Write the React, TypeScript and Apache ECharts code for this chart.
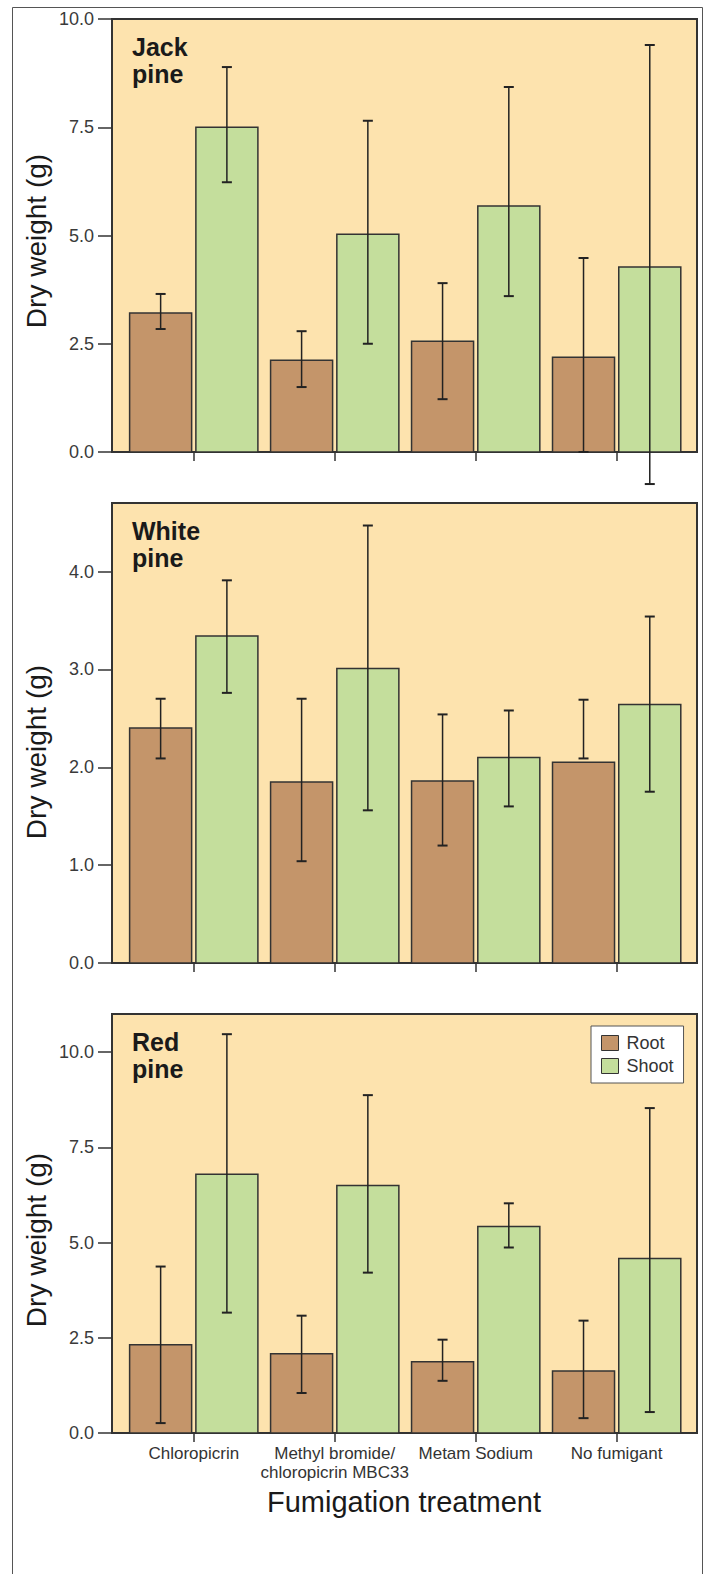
import React, { useEffect, useRef } from 'react';
import * as echarts from 'echarts';

const categories = ['Chloropicrin', 'Methyl bromide/\nchloropicrin MBC33', 'Metam Sodium', 'No fumigant'];
const seriesNames = ['Root', 'Shoot'];

const jackRoot = [3.21, 2.12, 2.56, 2.19];
const jackRootLow = [2.84, 1.5, 1.22, 0.0];
const jackRootHigh = [3.65, 2.79, 3.9, 4.48];
const jackShoot = [7.5, 5.03, 5.68, 4.27];
const jackShootLow = [6.23, 2.5, 3.6, -0.74];
const jackShootHigh = [8.89, 7.65, 8.43, 9.4];

const whiteRoot = [2.4, 1.85, 1.86, 2.05];
const whiteRootLow = [2.09, 1.04, 1.2, 2.09];
const whiteRootHigh = [2.7, 2.7, 2.54, 2.69];
const whiteShoot = [3.34, 3.01, 2.1, 2.64];
const whiteShootLow = [2.76, 1.56, 1.6, 1.75];
const whiteShootHigh = [3.91, 4.47, 2.58, 3.54];

const redRoot = [2.32, 2.08, 1.87, 1.63];
const redRootLow = [0.26, 1.05, 1.37, 0.39];
const redRootHigh = [4.37, 3.08, 2.45, 2.95];
const redShoot = [6.79, 6.5, 5.42, 4.58];
const redShootLow = [3.16, 4.21, 4.87, 0.55];
const redShootHigh = [10.47, 8.87, 6.03, 8.53];

const jackTicks = [0, 2.5, 5, 7.5, 10];
const whiteTicks = [0, 1, 2, 3, 4];
const redTicks = [0, 2.5, 5, 7.5, 10];

const panelTitles = ['Jack\npine', 'White\npine', 'Red\npine'];
const yMaxes = [10, 4.7, 11];
const yAxisName = 'Dry weight (g)';
const xAxisName = 'Fumigation treatment';

const FONT = '"Liberation Sans", Arial, Helvetica, sans-serif';
const ROOT_COLOR = '#C4956A';
const SHOOT_COLOR = '#C4DE9C';
const BG = '#FDE3AE';

const layout = [
  { top: 19, height: 433, nameY: 241 },
  { top: 503, height: 460, nameY: 752 },
  { top: 1014, height: 419, nameY: 1240 },
];

const panels = [
  { root: [jackRoot, jackRootLow, jackRootHigh], shoot: [jackShoot, jackShootLow, jackShootHigh], ticks: jackTicks },
  { root: [whiteRoot, whiteRootLow, whiteRootHigh], shoot: [whiteShoot, whiteShootLow, whiteShootHigh], ticks: whiteTicks },
  { root: [redRoot, redRootLow, redRootHigh], shoot: [redShoot, redShootLow, redShootHigh], ticks: redTicks },
];

function toData(arrs: number[][]) {
  const [m, lo, hi] = arrs;
  return categories.map((_, i) => [i, m[i], lo[i], hi[i]]);
}

function makeRender(offset: number, color: string) {
  return (params: any, api: any) => {
    const x = api.value(0) + offset;
    const v = api.value(1);
    const lo = api.value(2);
    const hi = api.value(3);
    const unit = api.size([1, 0])[0];
    const w = unit * 0.44;
    const top = api.coord([x, v]);
    const base = api.coord([x, 0]);
    const pLo = api.coord([x, lo]);
    const pHi = api.coord([x, hi]);
    const cx = top[0];
    const cap = 5;
    return {
      type: 'group',
      children: [
        {
          type: 'rect',
          shape: { x: cx - w / 2, y: top[1], width: w, height: base[1] - top[1] },
          style: { fill: color, stroke: '#333', lineWidth: 1.5 },
        },
        {
          type: 'line',
          shape: { x1: cx, y1: pHi[1], x2: cx, y2: pLo[1] },
          style: { stroke: '#222', lineWidth: 1.5 },
        },
        {
          type: 'line',
          shape: { x1: cx - cap, y1: pHi[1], x2: cx + cap, y2: pHi[1] },
          style: { stroke: '#222', lineWidth: 2 },
        },
        {
          type: 'line',
          shape: { x1: cx - cap, y1: pLo[1], x2: cx + cap, y2: pLo[1] },
          style: { stroke: '#222', lineWidth: 2 },
        },
      ],
    };
  };
}

function buildOption() {
  const grid = layout.map((l) => ({
    left: 112,
    top: l.top,
    width: 585,
    height: l.height,
    show: true,
    backgroundColor: BG,
    borderColor: '#333',
    borderWidth: 2,
  }));
  const xAxis = layout.map((_, i) => ({
    type: 'value',
    gridIndex: i,
    position: 'bottom',
    min: -0.58,
    max: 3.57,
    axisLine: { show: false, onZero: false },
    splitLine: { show: false },
    axisTick: {
      show: true,
      customValues: [0, 1, 2, 3],
      length: 9,
      lineStyle: { color: '#333', width: 1.5 },
    },
    axisLabel: {
      show: i === 2,
      customValues: [0, 1, 2, 3],
      formatter: (v: number) => categories[Math.round(v)] ?? '',
      fontSize: 17,
      lineHeight: 19,
      color: '#333',
      fontFamily: FONT,
      margin: 11,
    },
  }));
  const yAxis = layout.map((_, i) => ({
    type: 'value',
    gridIndex: i,
    position: 'left',
    min: 0,
    max: yMaxes[i],
    axisLine: { show: false, onZero: false },
    splitLine: { show: false },
    axisTick: {
      show: true,
      customValues: panels[i].ticks,
      length: 14,
      lineStyle: { color: '#333', width: 1.5 },
    },
    axisLabel: {
      customValues: panels[i].ticks,
      formatter: (v: number) => v.toFixed(1),
      fontSize: 18,
      color: '#3a3a3a',
      fontFamily: FONT,
      margin: 18,
    },
  }));
  const series: any[] = [];
  panels.forEach((p, i) => {
    series.push({
      type: 'custom',
      name: seriesNames[0],
      xAxisIndex: i,
      yAxisIndex: i,
      itemStyle: { color: ROOT_COLOR, borderColor: '#333', borderWidth: 1 },
      encode: { x: 0, y: 1 },
      renderItem: makeRender(-0.235, ROOT_COLOR),
      data: toData(p.root),
      z: 3,
    });
    series.push({
      type: 'custom',
      name: seriesNames[1],
      xAxisIndex: i,
      yAxisIndex: i,
      itemStyle: { color: SHOOT_COLOR, borderColor: '#333', borderWidth: 1 },
      encode: { x: 0, y: 1 },
      renderItem: makeRender(0.235, SHOOT_COLOR),
      data: toData(p.shoot),
      z: 3,
    });
  });

  const graphic: any[] = [
    {
      type: 'rect',
      shape: { x: 12.5, y: 7.5, width: 690, height: 1600 },
      style: { fill: 'none', stroke: '#555', lineWidth: 1 },
      silent: true,
      z: 0,
    },
  ];
  layout.forEach((l, i) => {
    graphic.push({
      type: 'text',
      x: 132,
      y: l.top + 14,
      style: {
        text: panelTitles[i],
        font: `bold 25px ${FONT}`,
        lineHeight: 27,
        fill: '#1a1a1a',
        align: 'left',
        verticalAlign: 'top',
      },
      z: 10,
    });
    graphic.push({
      type: 'text',
      x: 36,
      y: l.nameY,
      rotation: Math.PI / 2,
      style: {
        text: yAxisName,
        font: `28px ${FONT}`,
        fill: '#1a1a1a',
        align: 'center',
        verticalAlign: 'middle',
      },
      z: 10,
    });
  });
  graphic.push({
    type: 'text',
    x: 404,
    y: 1502,
    style: {
      text: xAxisName,
      font: `29px ${FONT}`,
      fill: '#1a1a1a',
      align: 'center',
      verticalAlign: 'middle',
    },
    z: 10,
  });

  return {
    animation: false,
    backgroundColor: '#fff',
    grid,
    xAxis,
    yAxis,
    series,
    graphic,
    legend: {
      show: true,
      orient: 'vertical',
      left: 591,
      top: 1026,
      padding: [8, 10, 8, 10],
      itemWidth: 17,
      itemHeight: 15,
      itemGap: 5,
      backgroundColor: '#fff',
      borderColor: '#555',
      borderWidth: 1,
      selectedMode: false,
      textStyle: { fontSize: 18, color: '#333', fontFamily: FONT, padding: [0, 0, 0, 3] },
      data: [
        { name: 'Root', icon: 'rect', itemStyle: { color: ROOT_COLOR, borderColor: '#333', borderWidth: 1 } },
        { name: 'Shoot', icon: 'rect', itemStyle: { color: SHOOT_COLOR, borderColor: '#333', borderWidth: 1 } },
      ],
    },
  };
}

export default function App() {
  const ref = useRef<HTMLDivElement>(null);
  useEffect(() => {
    const chart = echarts.init(ref.current!, null, { renderer: 'svg' });
    chart.setOption(buildOption() as any);
    return () => chart.dispose();
  }, []);
  return (
    <div
      ref={ref}
      style={{ position: 'absolute', left: 0, top: 0, width: 709, height: 1574 }}
    />
  );
}
